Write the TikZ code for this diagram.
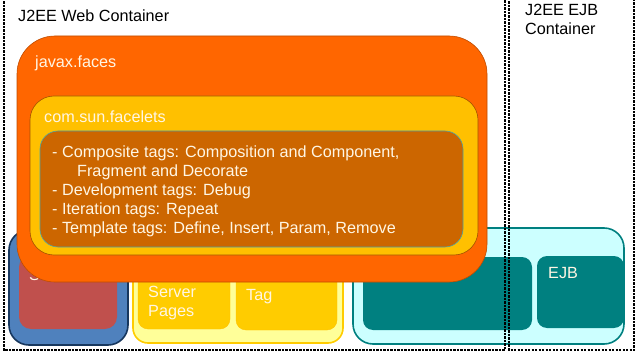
\documentclass[tikz,border=0pt]{standalone}
\usepackage{fontspec}
\setmainfont{Liberation Sans}
\usepackage{tikz}
\usetikzlibrary{calc}

\definecolor{facesorange}{RGB}{255,102,0}
\definecolor{faceletsgold}{RGB}{255,192,0}
\definecolor{tagsbrown}{RGB}{204,102,0}
\definecolor{servletblue}{RGB}{79,129,189}
\definecolor{servletnavy}{RGB}{23,55,94}
\definecolor{servletred}{RGB}{192,80,77}
\definecolor{jsppale}{RGB}{255,255,153}
\definecolor{jspgold}{RGB}{255,204,0}
\definecolor{ejbcyan}{RGB}{204,255,255}
\definecolor{ejbteal}{RGB}{0,128,128}
\definecolor{labelcream}{RGB}{255,246,228}

\begin{document}
\begin{tikzpicture}[x=1pt, y=-1pt,
	label/.style={anchor=base west, inner sep=0pt, font=\fontsize{16.2}{19}\selectfont},
	boxlabel/.style={label, text=labelcream, align=left},
	container/.style={line width=2.3pt, dash pattern=on 2.2pt off 1.3pt}]

	\useasboundingbox (0,0) rectangle (638,353);

	% bottom row
	\filldraw[fill=servletblue, draw=servletnavy, line width=1.6pt, rounded corners=20pt] (9,230) rectangle (128,345);
	\fill[servletred, rounded corners=12pt] (19,255) rectangle (117,329);
	\node[boxlabel] (servlet) at (29,280) {Servlet};

	\filldraw[fill=jsppale, draw=jspgold, line width=1.6pt, rounded corners=15pt] (133,230) rectangle (343,343);
	\filldraw[fill=jspgold, draw=jspgold!85!orange, rounded corners=10pt] (138,255) rectangle (230,329);
	\filldraw[fill=jspgold, draw=jspgold!85!orange, rounded corners=10pt] (236,255) rectangle (337,330);
	\node[boxlabel] (jsp) at (148,316) {Server\\Pages};
	\node[boxlabel] (jsptag) at (246,300) {Tag};

	\filldraw[fill=ejbcyan, draw=ejbteal, line width=1.6pt, rounded corners=20pt] (353,228) rectangle (624,344);
	\fill[ejbteal, rounded corners=10pt] (363,257) rectangle (532,330);
	\fill[ejbteal, rounded corners=10pt] (537,256) rectangle (624,328);
	\node[boxlabel] (ejb) at (548,278) {EJB};

	% faces on top
	\filldraw[fill=facesorange, draw=facesorange!75!black, line width=0.6pt, rounded corners=38pt] (17,36) rectangle (487,282);
	\filldraw[fill=faceletsgold, draw=tagsbrown!80!black, line width=0.6pt, rounded corners=24pt] (30,96) rectangle (478,255);
	\filldraw[fill=tagsbrown, draw=ejbteal!70, line width=0.6pt, rounded corners=18pt] (40,131) rectangle (463,247);

	\node[boxlabel] (faces) at (35,68) {javax.faces};
	\node[boxlabel] (facelets) at (44,122) {com.sun.facelets};
	\node[boxlabel] (tags) at (52,233) {- Composite tags: Composition and Component,\\\hspace*{25pt}Fragment and Decorate\\- Development tags: Debug\\- Iteration tags: Repeat\\- Template tags: Define, Insert, Param, Remove};

	% containers
	\node[label] (webtitle) at (18,22) {J2EE Web Container};
	\node[label, align=left] (ejbtitle) at (525,35) {J2EE EJB\\Container};
	\draw[container] (4,-2) rectangle (505,350);
	\draw[container] (509,-2) rectangle (634,350);

\end{tikzpicture}
\end{document}
